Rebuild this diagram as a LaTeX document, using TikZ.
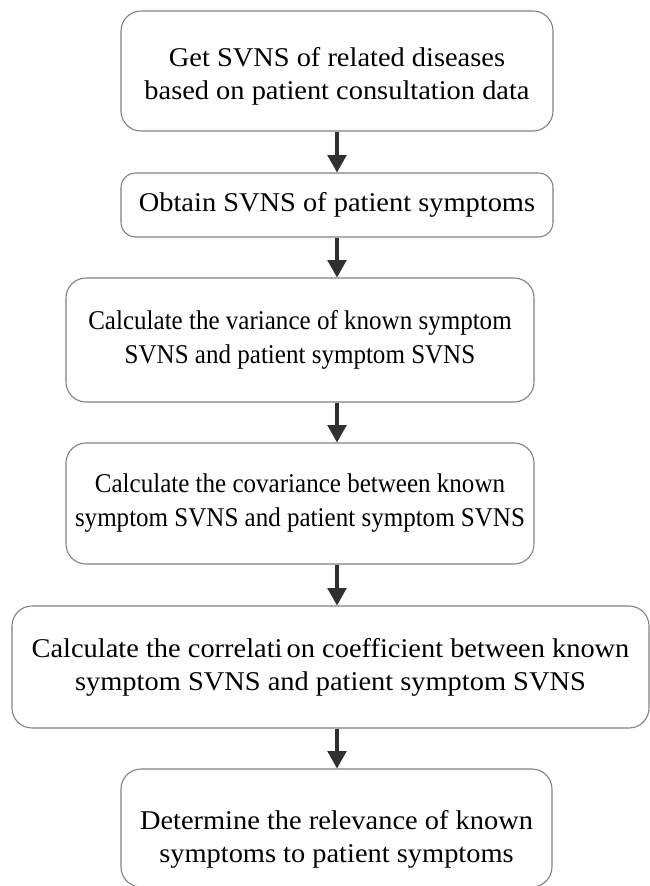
\documentclass[tikz,border=0pt]{standalone}
\usepackage{fontspec}
\setmainfont{Liberation Serif}
\newfontfamily\widefont[FakeStretch=1.05]{Liberation Serif}
\newfontfamily\narrowfont[FakeStretch=0.925]{Liberation Serif}
\usetikzlibrary{arrows.meta}
\definecolor{boxline}{HTML}{7F7F7F}
\definecolor{arrowcol}{HTML}{303030}
\tikzset{
  boxtext/.style={align=center, inner sep=0pt,
    font=\widefont\fontsize{20.3pt}{24.8pt}\selectfont},
  stepbox/.style={boxtext, draw=boxline, line width=0.8pt, rounded corners=15pt},
  narrowbox/.style={stepbox, font=\narrowfont\fontsize{20.3pt}{25.5pt}\selectfont},
  smallbox/.style={stepbox, rounded corners=11pt},
  flowarrow/.style={draw=arrowcol, line width=2.3pt,
    -{Triangle[length=13pt,width=14pt]}}
}
\begin{document}
\begin{tikzpicture}[x=0.75pt,y=-0.75pt]
\useasboundingbox (0,0) rectangle (650,886);
\node[stepbox, minimum width=432*0.75pt, minimum height=120*0.75pt] (b1) at (337,71) {};
\node[boxtext] (t1) at (337,76)
  {Get SVNS of related diseases\\based on patient consultation data};
\node[smallbox, minimum width=432*0.75pt, minimum height=64*0.75pt] (b2) at (337,205)
  {Obtain SVNS of patient symptoms};
\node[narrowbox, minimum width=468*0.75pt, minimum height=124*0.75pt] (b3) at (300,340)
  {Calculate the variance of known symptom\\SVNS and patient symptom SVNS};
\node[narrowbox, minimum width=468*0.75pt, minimum height=121*0.75pt] (b4) at (300,503.5)
  {Calculate the covariance between known\\symptom SVNS and patient symptom SVNS};
\node[stepbox, minimum width=637*0.75pt, minimum height=122*0.75pt] (b5) at (330.5,667)
  {Calculate the correlati\hspace{0.15em}on coefficient between known\\symptom SVNS and patient symptom SVNS};
\node[stepbox, minimum width=431*0.75pt, minimum height=118*0.75pt] (b6) at (336.5,828) {};
\node[boxtext] (t6) at (336.5,839)
  {Determine the relevance of known\\symptoms to patient symptoms};
\coordinate (ax) at (337,0);
\draw[flowarrow] (b1.south -| ax) -- (b2.north -| ax);
\draw[flowarrow] (b2.south -| ax) -- (b3.north -| ax);
\draw[flowarrow] (b3.south -| ax) -- (b4.north -| ax);
\draw[flowarrow] (b4.south -| ax) -- (b5.north -| ax);
\draw[flowarrow] (b5.south -| ax) -- (b6.north -| ax);
\end{tikzpicture}
\end{document}
